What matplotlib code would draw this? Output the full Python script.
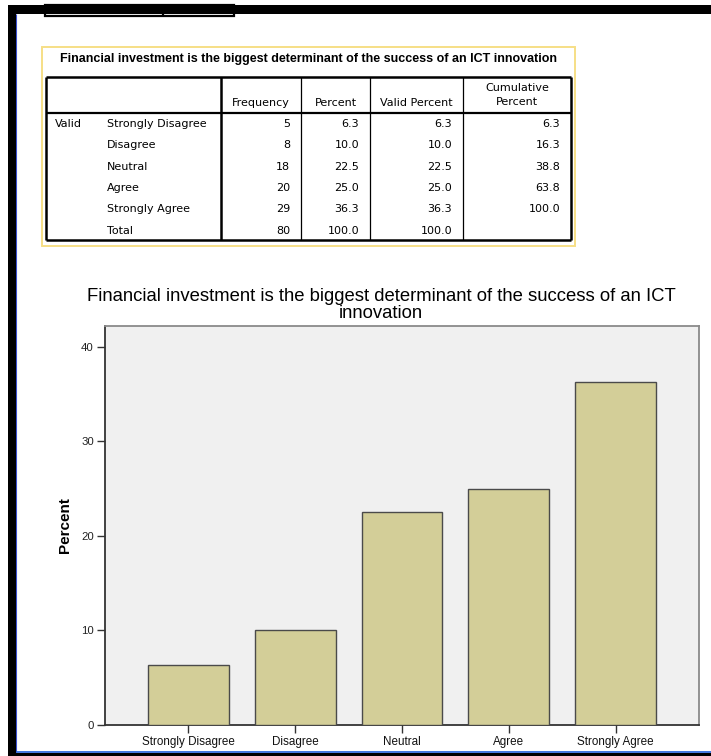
import matplotlib
matplotlib.use("Agg")
import matplotlib.pyplot as plt
from matplotlib.patches import Rectangle
from matplotlib.lines import Line2D

# ---- data ----
categories = ["Strongly Disagree", "Disagree", "Neutral", "Agree", "Strongly Agree"]
frequency = [5, 8, 18, 20, 29]
percent = [6.3, 10.0, 22.5, 25.0, 36.3]
valid_percent = [6.3, 10.0, 22.5, 25.0, 36.3]
cumulative_percent = [6.3, 16.3, 38.8, 63.8, 100.0]
total_frequency = 80
total_percent = 100.0
total_valid_percent = 100.0
y_ticks = [0, 10, 20, 30, 40]

title = "Financial investment is the biggest determinant of the success of an ICT innovation"
chart_title = "Financial investment is the biggest determinant of the success of an ICT\ninnovation"

W, H = 711, 756
fig = plt.figure(figsize=(W / 100, H / 100), dpi=100)
fig.patch.set_facecolor("white")


def fx(x):
    return x / W


def fy(y):
    return 1 - y / H


def hline(x1, x2, y, lw=1.0, color="black"):
    fig.add_artist(Line2D([fx(x1), fx(x2)], [fy(y), fy(y)], transform=fig.transFigure,
                          color=color, lw=lw, solid_capstyle="butt"))


def vline(x, y1, y2, lw=1.0, color="black"):
    fig.add_artist(Line2D([fx(x), fx(x)], [fy(y1), fy(y2)], transform=fig.transFigure,
                          color=color, lw=lw, solid_capstyle="butt"))


def rect(x1, y1, x2, y2, fc="none", ec="none", lw=0, z=1):
    fig.add_artist(Rectangle((fx(x1), fy(y2)), fx(x2) - fx(x1), fy(y1) - fy(y2),
                             transform=fig.transFigure, facecolor=fc, edgecolor=ec,
                             lw=lw, zorder=z))


def txt(x, y, s, ha="left", size=8, weight="normal", family="DejaVu Sans"):
    fig.text(fx(x), fy(y), s, ha=ha, va="center", fontsize=size, fontweight=weight,
             family=family, color="black")


# ---- window frame ----
rect(45, 5, 234, 16, ec="black", lw=1.6, z=2)
vline(163, 5, 16, lw=1.6)
rect(8, 5, W, 14, fc="black", z=3)
rect(8, 5, 15.5, H, fc="black", z=3)
rect(8, 752.5, W, H, fc="black", z=3)
vline(16.3, 14, 752, lw=0.8, color="#3a50d0")
hline(16, W, 751.5, lw=1.2, color="#1f5fd8")

# ---- frequency table ----
rect(42, 47, 575, 246, ec="#f6df86", lw=1.4, z=2)
txt(308, 59, title, ha="center", size=9.0, weight="bold", family="Liberation Sans")

col_x = [46, 221, 301, 370, 463, 571]
top, head, bottom = 77, 113, 240
hline(col_x[0], col_x[-1], top, lw=1.8)
hline(col_x[0], col_x[-1], bottom, lw=1.8)
hline(col_x[0], col_x[-1], head, lw=1.6)
vline(col_x[0], top, bottom, lw=1.8)
vline(col_x[-1], top, bottom, lw=1.8)
vline(col_x[1], top, bottom, lw=1.8)
for cx in col_x[2:-1]:
    vline(cx, top, bottom, lw=0.9)

tsize = 8.0
tfam = "DejaVu Sans"
headers = ["Frequency", "Percent", "Valid Percent"]
for i, h in enumerate(headers):
    txt((col_x[i + 1] + col_x[i + 2]) / 2, 103, h, ha="center", size=tsize, family=tfam)
txt((col_x[4] + col_x[5]) / 2, 88, "Cumulative", ha="center", size=tsize, family=tfam)
txt((col_x[4] + col_x[5]) / 2, 102, "Percent", ha="center", size=tsize, family=tfam)

row_y = [124, 145.5, 167, 188, 209.5, 231]
txt(55, row_y[0], "Valid", size=tsize, family=tfam)
for i, cat in enumerate(categories):
    y = row_y[i]
    txt(107, y, cat, size=tsize, family=tfam)
    txt(col_x[2] - 11, y, f"{frequency[i]}", ha="right", size=tsize, family=tfam)
    txt(col_x[3] - 11, y, f"{percent[i]:.1f}", ha="right", size=tsize, family=tfam)
    txt(col_x[4] - 11, y, f"{valid_percent[i]:.1f}", ha="right", size=tsize, family=tfam)
    txt(col_x[5] - 11, y, f"{cumulative_percent[i]:.1f}", ha="right", size=tsize, family=tfam)
y = row_y[5]
txt(107, y, "Total", size=tsize, family=tfam)
txt(col_x[2] - 11, y, f"{total_frequency}", ha="right", size=tsize, family=tfam)
txt(col_x[3] - 11, y, f"{total_percent:.1f}", ha="right", size=tsize, family=tfam)
txt(col_x[4] - 11, y, f"{total_valid_percent:.1f}", ha="right", size=tsize, family=tfam)

# ---- bar chart ----
ax_l, ax_r, ax_t, ax_b = 105, 699, 326, 725
ax = fig.add_axes([fx(ax_l), fy(ax_b), fx(ax_r) - fx(ax_l), (ax_b - ax_t) / H])
ax.set_facecolor("#f0f0f0")
xpos = list(range(len(categories)))
ax.bar(xpos, percent, width=0.757, color="#d3ce98", edgecolor="#4a4a4a", linewidth=1.0, zorder=3)
ax.set_xlim(-0.78, len(categories) - 1 + 0.78)
ax.set_ylim(0, 42.2)
ax.set_yticks(y_ticks)
ax.set_yticklabels([str(t) for t in y_ticks], fontsize=8.2, family="Liberation Sans", color="#222222")
ax.set_xticks(xpos)
ax.set_xticklabels(categories, fontsize=8.4, family="Liberation Sans", color="#111111")
ax.tick_params(axis="both", direction="out", length=6, width=1.0, color="#333333", pad=2)
for side in ["left", "bottom"]:
    ax.spines[side].set_color("#333333")
    ax.spines[side].set_linewidth(1.3)
for side in ["top", "right"]:
    ax.spines[side].set_color("#8a8a8a")
    ax.spines[side].set_linewidth(1.3)
ax.set_ylabel("Percent", fontsize=11, fontweight="bold", family="Liberation Sans", va="center")
ax.yaxis.set_label_coords((65 - ax_l) / (ax_r - ax_l), 0.5)

fig.text(fx(381), fy(297), "Financial investment is the biggest determinant of the success of an ICT",
         ha="center", va="center", fontsize=13.3, family="Liberation Sans")
fig.text(fx(381), fy(314), "innovation",
         ha="center", va="center", fontsize=13.3, family="Liberation Sans")

fig.savefig("out.png", dpi=100)
